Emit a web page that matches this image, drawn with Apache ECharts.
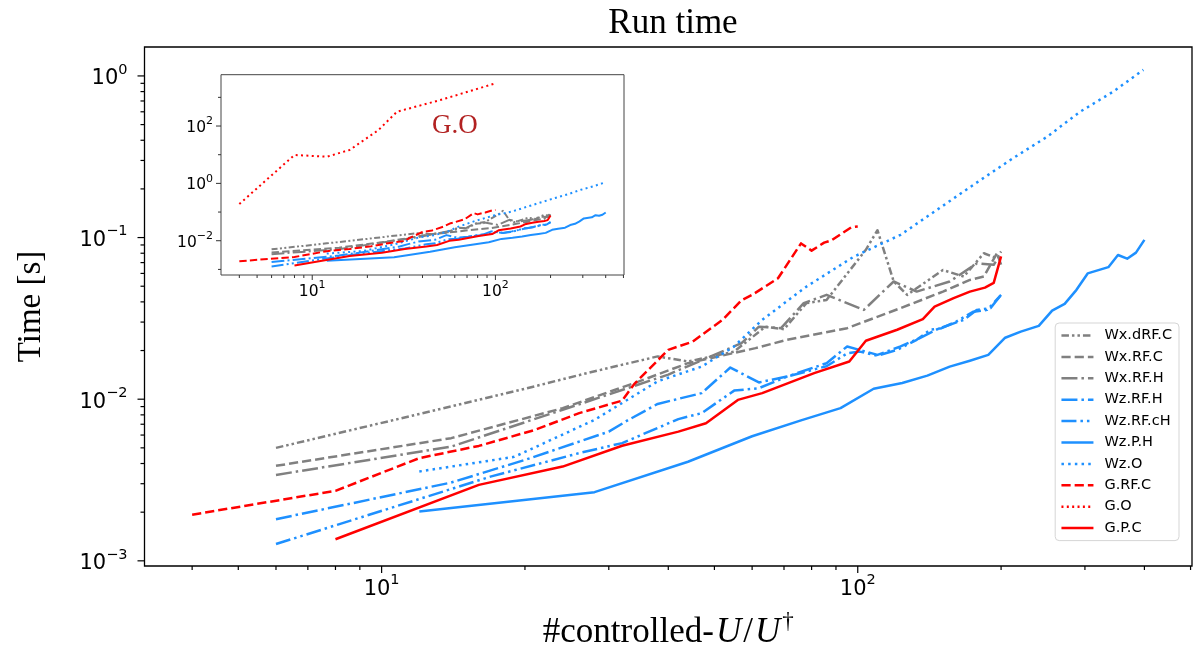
<!DOCTYPE html>
<html><head><meta charset="utf-8">
<script src="https://cdn.jsdelivr.net/npm/echarts@6/dist/echarts.min.js"></script>
<style>html,body{margin:0;padding:0;background:#fff}#c{width:1195px;height:659px}</style>
</head><body><div id="c"></div>
<script>
// ---------- data ----------
const seriesNames = ['Wx.dRF.C','Wx.RF.C','Wx.RF.H','Wz.RF.H','Wz.RF.cH','Wz.P.H','Wz.O','G.RF.C','G.O','G.P.C'];

const wxdrfcX = [6, 12, 20, 27, 38, 44, 55, 64, 70, 78, 86, 104, 110, 119, 127, 151, 167, 184, 196, 200];
const wxdrfcY = [5.0e-3, 8.1e-3, 1.16e-2, 1.45e-2, 1.84e-2, 1.71e-2, 1.97e-2, 2.81e-2, 2.71e-2, 3.93e-2, 4.11e-2, 8.4e-2, 1.11e-1, 5.35e-2, 4.42e-2, 6.3e-2, 5.74e-2, 8.0e-2, 7.45e-2, 8.2e-2];

const wxrfcX = [6, 14, 24, 34, 44, 61, 71, 95, 123, 151, 172, 184, 196, 200];
const wxrfcY = [3.87e-3, 5.74e-3, 8.8e-3, 1.26e-2, 1.67e-2, 2.07e-2, 2.33e-2, 2.75e-2, 3.66e-2, 4.63e-2, 5.47e-2, 5.74e-2, 8.0e-2, 6.8e-2];

const wxrfhX = [6, 14, 24, 40, 57, 62, 69, 77, 86, 103, 119, 133, 156, 178, 193, 200];
const wxrfhY = [3.40e-3, 5.09e-3, 8.6e-3, 1.42e-2, 2.22e-2, 2.81e-2, 2.75e-2, 3.93e-2, 4.42e-2, 3.57e-2, 5.35e-2, 4.63e-2, 5.35e-2, 6.93e-2, 6.78e-2, 8.0e-2];

const wzrfhX = [6, 14, 20, 30, 33, 38, 47, 54, 62, 71, 86, 95, 110, 123, 135, 147, 167, 178, 190, 200];
const wzrfhY = [1.81e-3, 3.05e-3, 4.21e-3, 6.3e-3, 7.45e-3, 9.35e-3, 1.09e-2, 1.57e-2, 1.27e-2, 1.38e-2, 1.67e-2, 2.12e-2, 1.88e-2, 2.12e-2, 2.39e-2, 2.71e-2, 3.10e-2, 3.57e-2, 3.66e-2, 4.42e-2];

const wzrfchX = [6, 17, 26, 32, 42, 47, 55, 62, 71, 86, 95, 101, 110, 121, 133, 142, 150, 161, 175, 187, 200];
const wzrfchY = [1.27e-3, 3.33e-3, 4.64e-3, 5.35e-3, 7.53e-3, 8.2e-3, 1.13e-2, 1.17e-2, 1.38e-2, 1.6e-2, 1.92e-2, 1.97e-2, 1.86e-2, 2.02e-2, 2.33e-2, 2.69e-2, 2.75e-2, 3.02e-2, 3.48e-2, 3.57e-2, 4.42e-2];

const wzphX = [12, 28, 44, 60, 76, 92, 108, 124, 140, 156, 172, 188, 204, 220, 240, 256, 272, 288, 304, 336, 352, 368, 384, 400];
const wzphY = [2.02e-3, 2.66e-3, 4.1e-3, 5.9e-3, 7.4e-3, 8.8e-3, 1.16e-2, 1.26e-2, 1.40e-2, 1.59e-2, 1.73e-2, 1.88e-2, 2.40e-2, 2.62e-2, 2.84e-2, 3.53e-2, 3.89e-2, 4.75e-2, 6.0e-2, 6.56e-2, 7.8e-2, 7.4e-2, 8.07e-2, 9.67e-2];

const wzoX = [12, 19, 28, 38, 47, 55, 63, 78, 98, 123, 181, 212, 250, 293, 344, 398];
const wzoY = [3.57e-3, 4.4e-3, 7.45e-3, 1.29e-2, 1.59e-2, 2.12e-2, 3.10e-2, 4.97e-2, 7.6e-2, 1.04e-1, 2.27e-1, 3.10e-1, 4.21e-1, 6.0e-1, 8.0e-1, 1.09];

const grfcX = [4, 8, 12, 16, 21, 26, 32, 34, 40, 45, 52, 57, 60, 68, 76, 80, 85, 88, 97, 100];
const grfcY = [1.93e-3, 2.71e-3, 4.32e-3, 5.14e-3, 6.46e-3, 8.2e-3, 9.8e-3, 1.25e-2, 2.02e-2, 2.27e-2, 3.10e-2, 4.09e-2, 4.42e-2, 5.6e-2, 9.2e-2, 8.3e-2, 9.3e-2, 9.6e-2, 1.16e-1, 1.17e-1];

const goX = [4, 8, 12, 16, 23, 29, 50, 100];
const goY = [0.19, 9.8, 8.5, 14.6, 72.6, 315, 805, 3076];

const gpcX = [8, 16, 24, 32, 42, 48, 56, 63, 81, 96, 104, 121, 137, 145, 159, 172, 185, 193, 200];
const gpcY = [1.36e-3, 2.95e-3, 3.83e-3, 5.15e-3, 6.3e-3, 7.1e-3, 9.9e-3, 1.09e-2, 1.45e-2, 1.71e-2, 2.30e-2, 2.69e-2, 3.13e-2, 3.74e-2, 4.22e-2, 4.63e-2, 4.9e-2, 5.24e-2, 7.64e-2];

// tick values
const xMajorTicks = [10, 100];
const xMinorTicks = [4, 5, 6, 7, 8, 9, 20, 30, 40, 50, 60, 70, 80, 90, 200, 300, 400, 500];
const yMajorTicks = [0.001, 0.01, 0.1, 1];
const yMinorTicks = [0.002, 0.003, 0.004, 0.005, 0.006, 0.007, 0.008, 0.009,
                     0.02, 0.03, 0.04, 0.05, 0.06, 0.07, 0.08, 0.09,
                     0.2, 0.3, 0.4, 0.5, 0.6, 0.7, 0.8, 0.9];
const insetYMajorTicks = [0.01, 1, 100];
const insetYMinorTicks = [0.001, 0.1, 10, 1000];

// ---------- styling ----------
const GRAY = '#808080', BLUE = '#1E90FF', RED = '#FF0000';
const LW = 2.5;
const DASH = [9.2, 4];
const DOT = [2.5, 4.2];
const DASHDOT = [16, 4, 2.5, 4];
const DASHDOTDOT = [7.5, 3, 2.5, 3, 2.5, 3];
const LONGDASHDOTDOT = [15, 4, 2.5, 4, 2.5, 4];

const X_MIN = Math.pow(10, 0.502), X_MAX = Math.pow(10, 2.702);
const Y_MIN = Math.pow(10, -3.032), Y_MAX = Math.pow(10, 0.179);
const IY_MIN = Math.pow(10, -3.195), IY_MAX = Math.pow(10, 3.79);

const styleDefs = {
  'Wx.dRF.C': {c: GRAY, d: DASHDOTDOT, x: wxdrfcX, y: wxdrfcY},
  'Wx.RF.C':  {c: GRAY, d: DASH, x: wxrfcX, y: wxrfcY},
  'Wx.RF.H':  {c: GRAY, d: DASHDOT, x: wxrfhX, y: wxrfhY},
  'Wz.RF.H':  {c: BLUE, d: DASHDOT, x: wzrfhX, y: wzrfhY},
  'Wz.RF.cH': {c: BLUE, d: LONGDASHDOTDOT, x: wzrfchX, y: wzrfchY},
  'Wz.P.H':   {c: BLUE, d: 'solid', x: wzphX, y: wzphY},
  'Wz.O':     {c: BLUE, d: DOT, x: wzoX, y: wzoY},
  'G.RF.C':   {c: RED, d: DASH, x: grfcX, y: grfcY},
  'G.O':      {c: RED, d: DOT, x: goX, y: goY},
  'G.P.C':    {c: RED, d: 'solid', x: gpcX, y: gpcY}
};

function pairs(xs, ys) { return xs.map((x, i) => [x, ys[i]]); }
function scaleDash(d, k) { return Array.isArray(d) ? d.map(v => v * k) : d; }

function lineSeries(name, axisIdx, width, dashScale) {
  const s = styleDefs[name];
  return {
    type: 'line', name: name,
    xAxisIndex: axisIdx, yAxisIndex: axisIdx,
    data: pairs(s.x, s.y),
    symbol: 'none', showSymbol: false,
    lineStyle: {color: s.c, width: width, type: scaleDash(s.d, dashScale), cap: 'butt', join: 'round'},
    itemStyle: {color: s.c},
    emphasis: {disabled: true},
    animation: false, z: 3
  };
}

function powLabel(v, evenOnly) {
  const e = Math.log10(v);
  const r = Math.round(e);
  if (Math.abs(e - r) > 1e-6) return '';
  if (evenOnly && (r % 2 !== 0)) return '';
  const ex = r < 0 ? '\u2212' + (-r) : String(r);
  return '{b|10}{s|' + ex + '}';
}

function tickData(xMaj, xMin, yMaj, yMin, xLo, yLo, majLen, minLen) {
  const d = [];
  xMaj.forEach(v => d.push([v, yLo, 1, majLen]));
  xMin.forEach(v => d.push([v, yLo, 1, minLen]));
  yMaj.forEach(v => d.push([xLo, v, 0, majLen]));
  yMin.forEach(v => d.push([xLo, v, 0, minLen]));
  return d;
}

function tickSeries(axisIdx, data, color, lw) {
  return {
    type: 'custom', name: '_ticks' + axisIdx,
    xAxisIndex: axisIdx, yAxisIndex: axisIdx,
    silent: true, animation: false, z: 5,
    clip: false,
    data: data,
    renderItem: function (params, api) {
      const p = api.coord([api.value(0), api.value(1)]);
      const isX = api.value(2) === 1;
      const len = api.value(3);
      const shape = isX ? {x1: p[0], y1: p[1], x2: p[0], y2: p[1] + len}
                        : {x1: p[0] - len, y1: p[1], x2: p[0], y2: p[1]};
      return {type: 'line', shape: shape, style: {stroke: color, lineWidth: lw}};
    }
  };
}

const mainRich = {
  b: {fontFamily: 'DejaVu Sans', fontSize: 21, color: '#000', lineHeight: 27, verticalAlign: 'bottom'},
  s: {fontFamily: 'DejaVu Sans', fontSize: 14.5, color: '#000', lineHeight: 15, verticalAlign: 'top'}
};
const insetRich = {
  b: {fontFamily: 'DejaVu Sans', fontSize: 15.5, color: '#000', lineHeight: 20, verticalAlign: 'bottom'},
  s: {fontFamily: 'DejaVu Sans', fontSize: 11, color: '#000', lineHeight: 11, verticalAlign: 'top'}
};

const series = [];
seriesNames.forEach(n => { if (n !== 'G.O') series.push(lineSeries(n, 0, LW, 1)); });
seriesNames.forEach(n => series.push(lineSeries(n, 1, 2, 0.8)));
series.push(tickSeries(0, tickData(xMajorTicks, xMinorTicks, yMajorTicks, yMinorTicks, X_MIN, Y_MIN, 7, 4), '#000', 1.2));
series.push(tickSeries(1, tickData(xMajorTicks, xMinorTicks, insetYMajorTicks, insetYMinorTicks, X_MIN, IY_MIN, 5, 3), '#333', 1));

const option = {
  backgroundColor: '#fff',
  animation: false,
  title: {
    text: 'Run time', left: 668, top: 1, textAlign: 'center',
    textStyle: {fontFamily: 'Liberation Serif', fontSize: 35, fontWeight: 'normal', color: '#000'}
  },
  grid: [
    {left: 144.5, top: 47, width: 1047.5, height: 519, show: true, borderColor: '#000', borderWidth: 1.3, backgroundColor: 'transparent', containLabel: false},
    {left: 221, top: 74.7, width: 403, height: 200.3, show: true, borderColor: '#444', borderWidth: 1, backgroundColor: '#fff', containLabel: false}
  ],
  xAxis: [
    {
      type: 'log', gridIndex: 0, min: X_MIN, max: X_MAX,
      axisLine: {show: false}, axisTick: {show: false}, splitLine: {show: false},
      axisLabel: {margin: 7, formatter: v => powLabel(v, false), rich: mainRich},
      name: '{a|#controlled-}{i|U}{a|/}{i|U}{s|\u2020}',
      nameLocation: 'middle', nameGap: 44,
      nameTextStyle: {
        fontFamily: 'Liberation Serif', fontSize: 35, color: '#000',
        rich: {
          a: {fontFamily: 'Liberation Serif', fontSize: 35, color: '#000', lineHeight: 40, verticalAlign: 'bottom'},
          i: {fontFamily: 'Liberation Serif', fontStyle: 'italic', fontSize: 35, color: '#000', lineHeight: 40, verticalAlign: 'bottom', padding: [0, 2, 0, 2]},
          s: {fontFamily: 'Liberation Serif', fontSize: 23, color: '#000', lineHeight: 23, verticalAlign: 'top'}
        }
      }
    },
    {
      type: 'log', gridIndex: 1, min: X_MIN, max: X_MAX,
      axisLine: {show: false}, axisTick: {show: false}, splitLine: {show: false},
      axisLabel: {margin: 5, formatter: v => powLabel(v, false), rich: insetRich}
    }
  ],
  yAxis: [
    {
      type: 'log', gridIndex: 0, min: Y_MIN, max: Y_MAX,
      axisLine: {show: false}, axisTick: {show: false}, splitLine: {show: false},
      axisLabel: {margin: 17, formatter: v => powLabel(v, false), rich: mainRich},
      name: 'Time [s]', nameLocation: 'middle', nameGap: 97, nameRotate: 90,
      nameTextStyle: {fontFamily: 'Liberation Serif', fontSize: 33, color: '#000'}
    },
    {
      type: 'log', gridIndex: 1, min: IY_MIN, max: IY_MAX,
      axisLine: {show: false}, axisTick: {show: false}, splitLine: {show: false},
      axisLabel: {margin: 8, formatter: v => powLabel(v, true), rich: insetRich}
    }
  ],
  legend: {
    data: seriesNames,
    orient: 'vertical', right: 16, top: 323,
    itemWidth: 32, itemHeight: 14, itemGap: 6.4,
    padding: [5, 7, 5, 5],
    backgroundColor: 'rgba(255,255,255,0.85)',
    borderColor: '#d5d5d5', borderWidth: 1, borderRadius: 4,
    selectedMode: false,
    itemStyle: {opacity: 0},
    lineStyle: {width: 2.5},
    textStyle: {fontFamily: 'DejaVu Sans', fontSize: 14.5, color: '#000', padding: [0, 0, 0, 6]}
  },
  graphic: [
    {type: 'text', left: 432, top: 112, silent: true,
     style: {text: 'G.O', fontFamily: 'Liberation Serif', fontSize: 27, fill: '#B22222'}}
  ],
  series: series
};

const chart = echarts.init(document.getElementById('c'), null, {renderer: 'canvas'});
chart.setOption(option);
</script></body></html>
